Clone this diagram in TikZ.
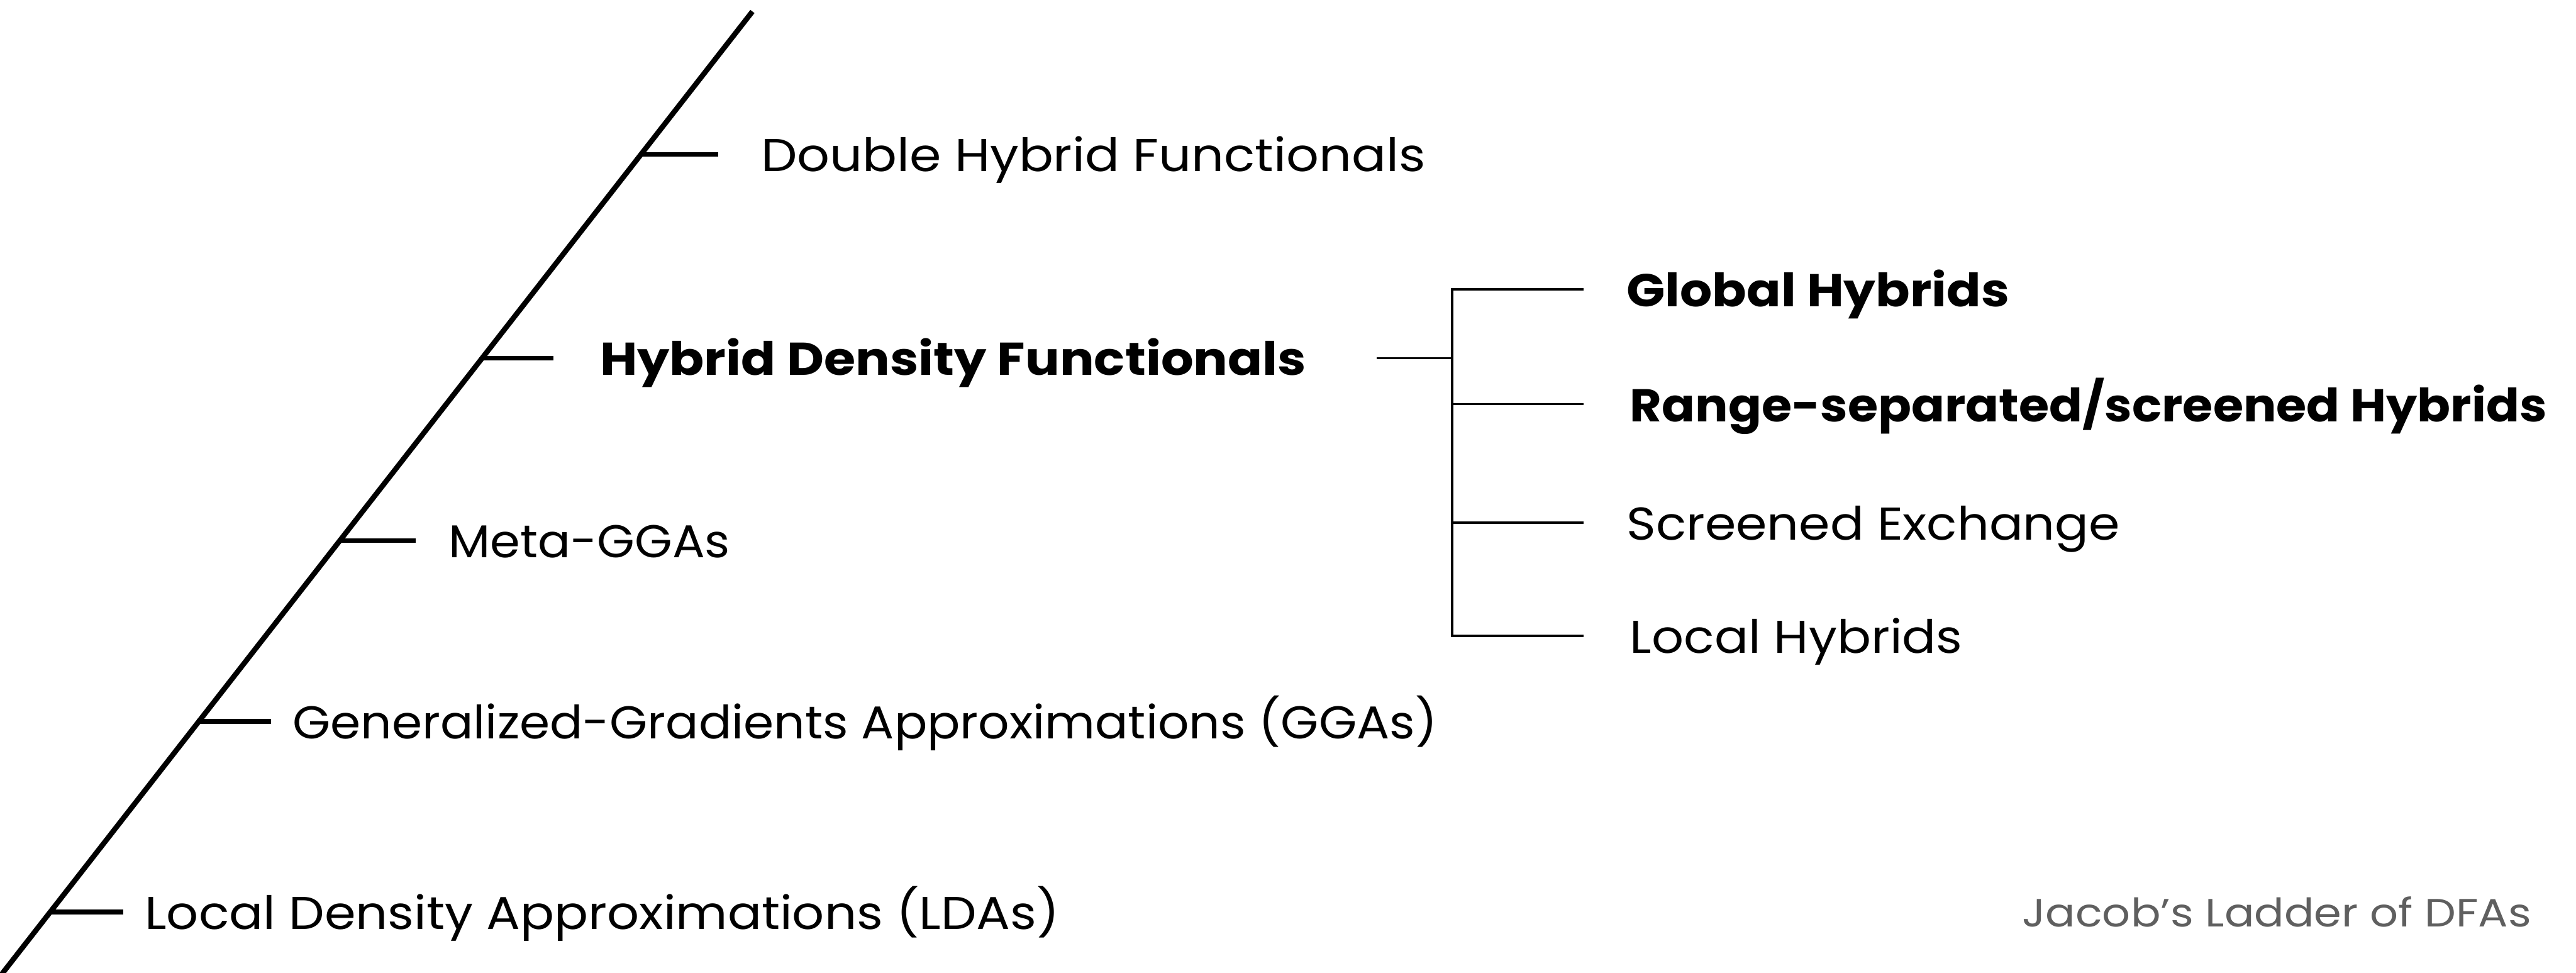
\documentclass[tikz,border=0pt]{standalone}
\usepackage{fontspec}
\usepackage{graphicx}
\setmainfont{Poppins}
\definecolor{capgray}{HTML}{5F5F5F}
\newcommand\hsc[2]{\scalebox{#1}[1]{#2}}
\tikzset{
  lbl/.style={anchor=base west, inner sep=0pt, font=\fontsize{28}{30}\selectfont},
  blbl/.style={lbl, font=\fontsize{28}{30}\selectfont\bfseries},
  rung/.style={line width=3pt},
  spine/.style={line width=3.2pt},
  brk/.style={line width=1.4pt},
}
\begin{document}
\begin{tikzpicture}[x=1pt,y=-1pt]
\useasboundingbox (0,0) rectangle (1568,592);
% main ladder
\coordinate (top) at (458,7);
\coordinate (bot) at (1,593);
\draw[spine] (top) -- (bot);
% rungs
\coordinate (r1a) at (390,94);  \coordinate (r1b) at (437,94);
\coordinate (r2a) at (293,218); \coordinate (r2b) at (337,218);
\coordinate (r3a) at (206,329); \coordinate (r3b) at (253,329);
\coordinate (r4a) at (120,439); \coordinate (r4b) at (165,439);
\coordinate (r5a) at (30,555);  \coordinate (r5b) at (75,555);
\draw[rung] (r1a) -- (r1b);
\draw[rung] (r2a) -- (r2b);
\draw[rung] (r3a) -- (r3b);
\draw[rung] (r4a) -- (r4b);
\draw[rung] (r5a) -- (r5b);
% labels
\node[lbl]  (dh)  at (463,104.5) {\hsc{1.11}{Double Hybrid Functionals}};
\node[blbl] (hdf) at (365,228.5) {\hsc{1.111}{Hybrid Density Functionals}};
\node[lbl]  (mg)  at (273,339.5) {\hsc{1.05}{Meta-GGAs}};
\node[lbl]  (gga) at (178,449.5) {\hsc{1.06}{Generalized-Gradients Approximations (GGAs)}};
\node[lbl]  (lda) at (88,565.5)  {\hsc{1.093}{Local Density Approximations (LDAs)}};
% bracket
\coordinate (bs) at (838,218);
\coordinate (bm) at (884,218);
\coordinate (bt) at (884,176);
\coordinate (bb) at (884,387);
\coordinate (b1) at (964,176);
\coordinate (b2a) at (884,246); \coordinate (b2) at (964,246);
\coordinate (b3a) at (884,318); \coordinate (b3) at (964,318);
\coordinate (b4) at (964,387);
\draw[brk] (bs) -- (bm);
\draw[brk] (b1) -- (bt) -- (bb) -- (b4);
\draw[brk] (b2a) -- (b2);
\draw[brk] (b3a) -- (b3);
\node[blbl] (gh) at (990,186.5) {\hsc{1.10}{Global Hybrids}};
\node[blbl] (rs) at (992,256.5) {\hsc{1.067}{Range-separated/screened Hybrids}};
\node[lbl]  (se) at (990,328.5) {\hsc{1.087}{Screened Exchange}};
\node[lbl]  (lh) at (992,397.5) {\hsc{1.092}{Local Hybrids}};
% caption
\node[anchor=base east, inner sep=0pt, text=capgray, font=\fontsize{24}{26}\selectfont] (cap) at (1541,564) {\hsc{1.123}{Jacob’s Ladder of DFAs}};
\end{tikzpicture}
\end{document}
